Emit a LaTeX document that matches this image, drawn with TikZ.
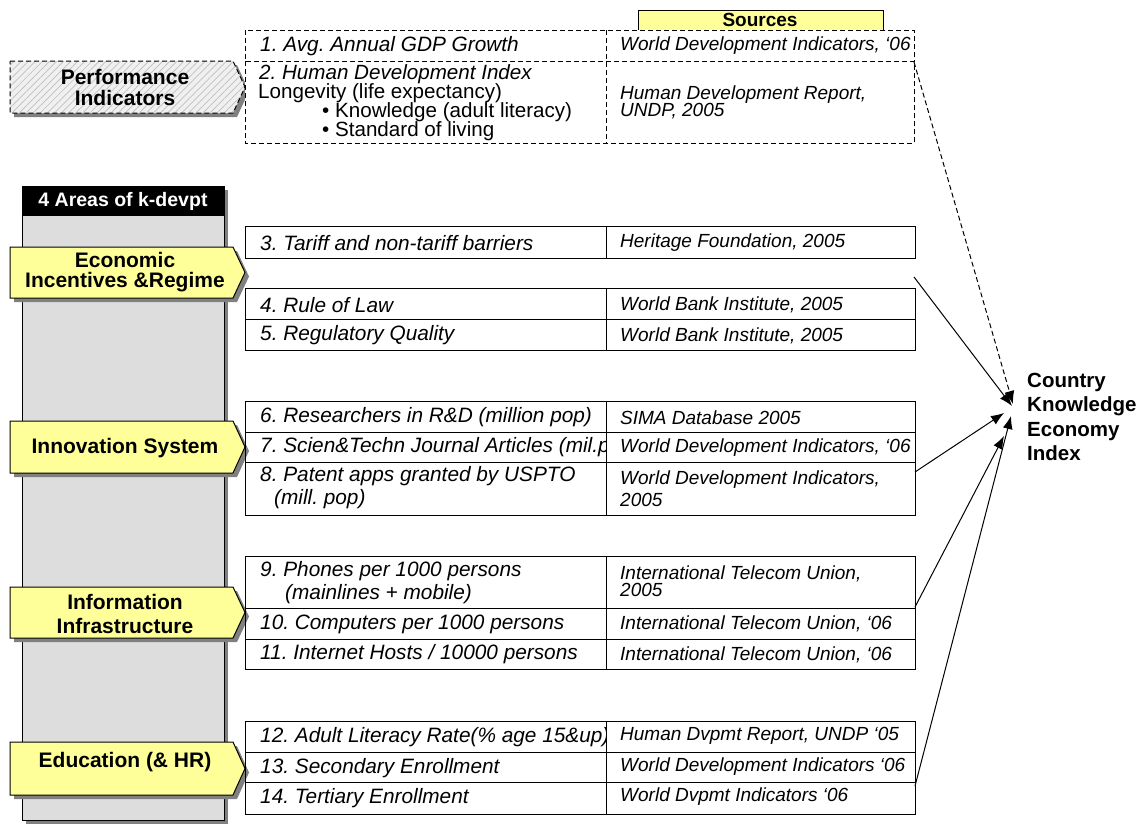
\documentclass[tikz,border=0pt]{standalone}
\usepackage{fontspec}
\setmainfont{Liberation Sans}
\usetikzlibrary{arrows.meta,patterns.meta,calc}
\definecolor{lyellow}{HTML}{FFFF99}
\definecolor{colgray}{HTML}{DDDDDD}
\definecolor{shadowgray}{HTML}{808080}
\newcommand\tightlines{\lineskiplimit=-20pt\relax\lineskip=0pt\relax}
\begin{document}
\frenchspacing
\begin{tikzpicture}[x=1pt,y=-1pt,
  lbl/.style={font=\fontsize{21}{21}\selectfont\bfseries, align=center, inner sep=0},
  ct/.style={anchor=west, inner sep=0, align=left, font=\fontsize{20.8}{23}\selectfont\itshape},
  hdi/.style={anchor=west, inner sep=0, font=\fontsize{20.6}{20}\selectfont},
  src/.style={anchor=west, inner sep=0, align=left, font=\fontsize{19}{17}\selectfont\tightlines\itshape},
  arr/.style={-{Latex[length=13pt,width=10pt]}, line width=1pt},
  cellline/.style={draw, line width=1pt},
  dline/.style={draw, line width=1pt, dash pattern=on 5pt off 3pt},
  shadowfill/.style={fill=shadowgray},
  yellowbox/.style={draw, line width=1pt, fill=lyellow},
]
\useasboundingbox (0,0) rectangle (1143,825);

% ---------- Performance indicators (hatched arrow) ----------
\fill[shadowfill] (14,65) -- (237,65) -- (249,91) -- (237,117) -- (14,117) -- cycle;
\fill[white!94!black] (10,61) -- (233,61) -- (245,87) -- (233,113) -- (10,113) -- cycle;
\path[pattern={Lines[angle=45,distance=5pt,line width=0.7pt]}, pattern color=black!25]
  (10,61) -- (233,61) -- (245,87) -- (233,113) -- (10,113) -- cycle;
\path[dline] (10,61) -- (233,61) -- (245,87) -- (233,113) -- (10,113) -- cycle;
\node[lbl] (perf) at (125,87) {Performance\\Indicators};

% ---------- Sources header and dashed top table ----------
\draw[yellowbox] (638,10) rectangle (883,30);
\node[font=\fontsize{19}{19}\selectfont\bfseries, inner sep=0] (sources) at (760,20) {Sources};
\fill[white] (245,30) rectangle (914,143);
\path[dline] (245,30) rectangle (914,61);
\path[dline] (245,61) rectangle (914,143);
\path[dline] (606,30) -- (606,143);
\node[ct] (r1l) at (260,46) {1. Avg. Annual GDP Growth};
\node[src] (r1r) at (620,46) {World Development Indicators, ‘06};
\node[hdi, font=\fontsize{20.6}{20}\selectfont\itshape] (r2a) at (259,74) {2. Human Development Index};
\node[hdi] (r2b) at (258,93) {Longevity (life expectancy)};
\node[hdi] (r2c) at (322,112) {• Knowledge (adult literacy)};
\node[hdi] (r2d) at (322,131) {• Standard of living};
\node[src] (r2r) at (620,102) {Human Development Report,\\UNDP, 2005};

% ---------- Left column ----------
\fill[shadowfill] (26,190) rectangle (228,824);
\draw[line width=1pt, fill=colgray] (22,215) rectangle (224,820);
\draw[line width=1pt, fill=black] (22,186) rectangle (224,215);
\node[font=\fontsize{19.5}{19.5}\selectfont\bfseries, text=white, inner sep=0] (areas) at (123,201) {4 Areas of k-devpt};

% area arrow boxes
\foreach \ya/\yb in {247/298, 421/473, 587/638, 742/795}{
  \pgfmathsetmacro{\ym}{(\ya+\yb)/2}
  \fill[shadowfill] (14,\ya+4) -- (237,\ya+4) -- (249,\ym+4) -- (237,\yb+4) -- (14,\yb+4) -- cycle;
  \path[yellowbox] (10,\ya) -- (233,\ya) -- (245,\ym) -- (233,\yb) -- (10,\yb) -- cycle;
}
\node[lbl, font=\fontsize{21}{20}\selectfont\tightlines\bfseries] (econ) at (125,272) {Economic\\Incentives \&Regime};
\node[lbl] (innov) at (125,448) {Innovation System};
\node[lbl, font=\fontsize{21}{24}\selectfont\bfseries] (info) at (125,614) {Information\\Infrastructure};
\node[lbl] (edu) at (125,762) {Education (\& HR)};

% ---------- Solid tables ----------
\foreach \ya/\yb in {226/258, 288/319, 319/350, 401/432, 432/462, 462/515, 556/608, 608/639, 639/669, 721/752, 752/782, 782/814}{
  \path[cellline] (245,\ya) rectangle (606,\yb);
  \path[cellline] (606,\ya) rectangle (915,\yb);
}
\begin{scope}
\clip (245,0) rectangle (605,825);
\node[ct] (r3l) at (260,243) {3. Tariff and non-tariff barriers};
\node[ct] (r4l) at (260,305) {4. Rule of Law};
\node[ct] (r5l) at (260,335) {5. Regulatory Quality};
\node[ct] (r6l) at (260,417) {6. Researchers in R\&D (million pop)};
\node[ct] (r7l) at (260,447) {7. Scien\&Techn Journal Articles (mil.pop)};
\node[ct] (r8l) at (260,488) {8. Patent apps granted by USPTO\\\hspace*{14pt}(mill. pop)};
\node[ct] (r9l) at (260,583) {9. Phones per 1000 persons\\\hspace*{25pt}(mainlines + mobile)};
\node[ct] (r10l) at (260,624) {10. Computers per 1000 persons};
\node[ct] (r11l) at (260,654) {11. Internet Hosts / 10000 persons};
\node[ct] (r12l) at (260,737) {12. Adult Literacy Rate(\% age 15\&up)};
\node[ct] (r13l) at (260,768) {13. Secondary Enrollment};
\node[ct] (r14l) at (260,798) {14. Tertiary Enrollment};
\end{scope}
\node[src] (r3r) at (620,243) {Heritage Foundation, 2005};
\node[src] (r4r) at (620,305) {World Bank Institute, 2005};
\node[src] (r5r) at (620,336) {World Bank Institute, 2005};
\node[src] (r6r) at (620,418) {SIMA Database 2005};
\node[src] (r7r) at (620,448) {World Development Indicators, ‘06};
\node[src, font=\fontsize{19}{22}\selectfont\itshape] (r8r) at (620,489) {World Development Indicators,\\2005};
\node[src] (r9r) at (620,581) {International Telecom Union,\\2005};
\node[src] (r10r) at (620,624) {International Telecom Union, ‘06};
\node[src] (r11r) at (620,655) {International Telecom Union, ‘06};
\node[src] (r12r) at (620,736) {Human Dvpmt Report, UNDP ‘05};
\node[src] (r13r) at (620,767) {World Development Indicators ‘06};
\node[src] (r14r) at (620,797) {World Dvpmt Indicators ‘06};

% ---------- Index ----------
\node[anchor=west, align=left, inner sep=0, font=\fontsize{20.5}{24.3}\selectfont\bfseries] (ckei) at (1027,417) {Country\\Knowledge\\Economy\\Index};

\coordinate (sPerf) at (914,62);
\coordinate (sEcon) at (914,277);
\coordinate (sInnov) at (915,472);
\coordinate (sInfo) at (915,607);
\coordinate (sEdu) at (915,786);
\coordinate (tPerf) at (1013,404);
\coordinate (tEcon) at (1012,406);
\coordinate (tInnov) at (1004,413);
\coordinate (tInfo) at (1004,436);
\coordinate (tEdu) at (1011,416);

\draw[arr, dash pattern=on 5pt off 3pt] (sPerf) -- (tPerf);
\draw[arr] (sEcon) -- (tEcon);
\draw[arr] (sInnov) -- (tInnov);
\draw[arr] (sInfo) -- (tInfo);
\draw[arr] (sEdu) -- (tEdu);
\end{tikzpicture}
\end{document}
